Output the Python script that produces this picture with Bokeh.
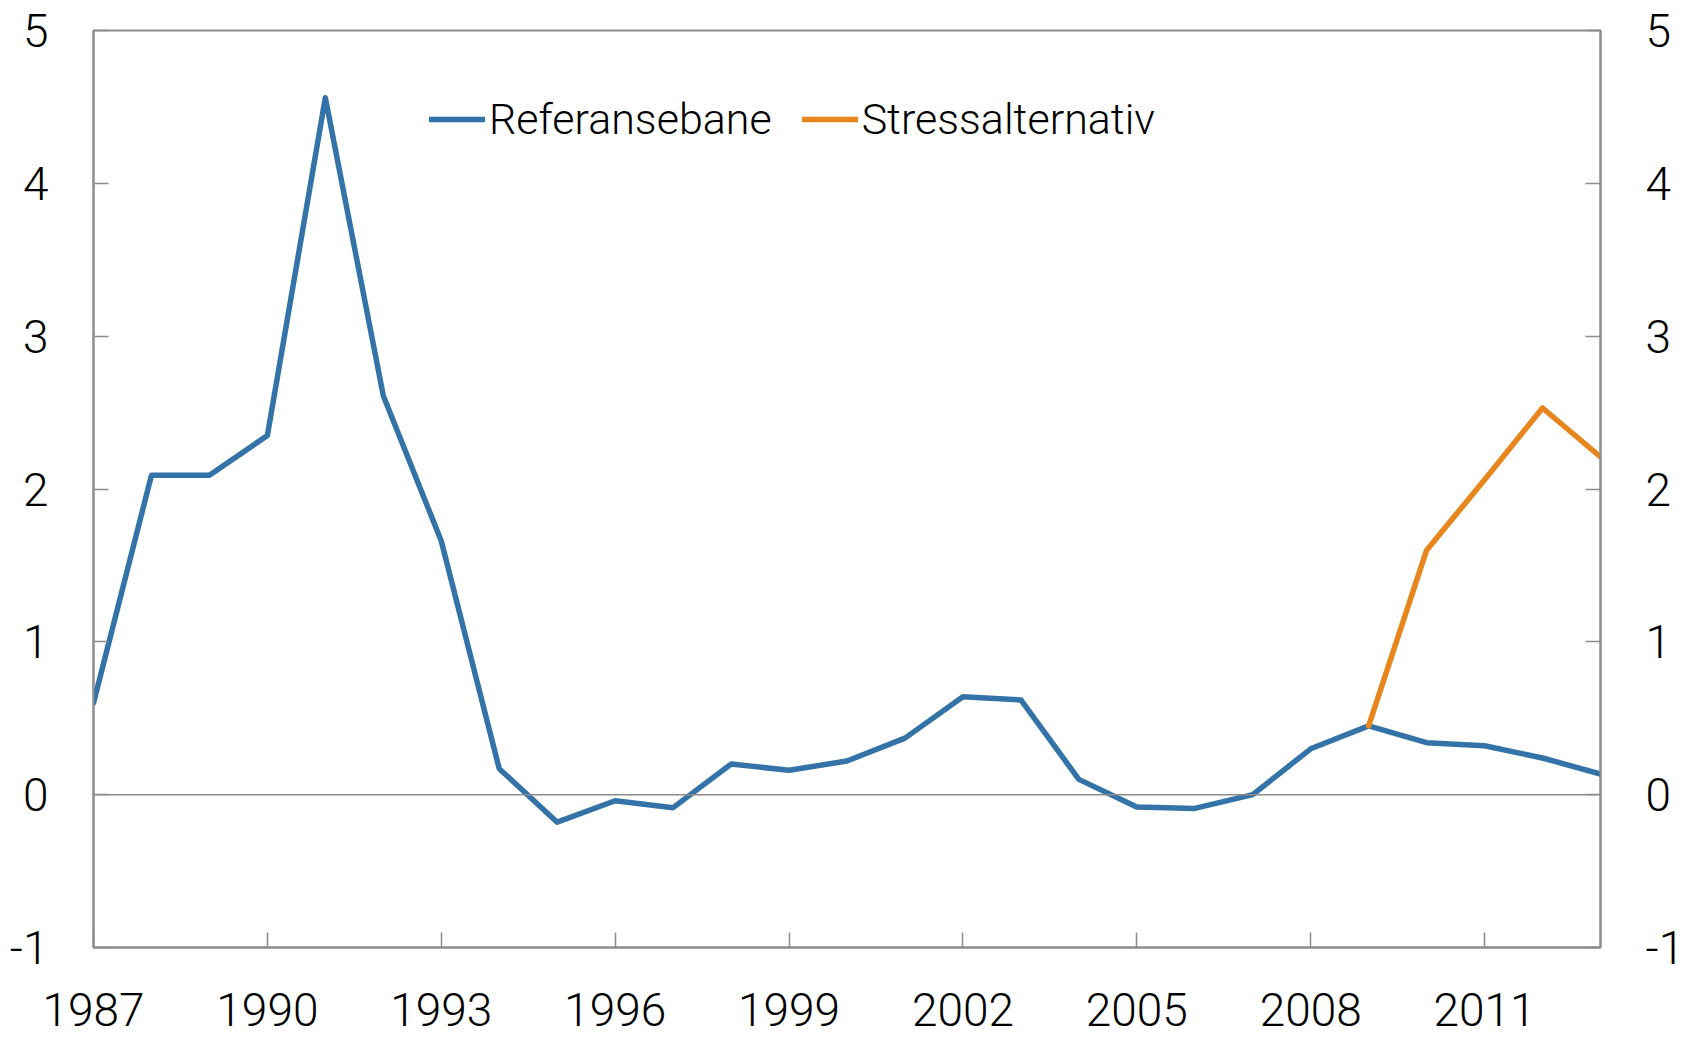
from bokeh.plotting import figure
from bokeh.models import (Range1d, LinearAxis, FixedTicker, Span, Legend,
                          LegendItem, PrintfTickFormatter)
from bokeh.embed import file_html
from bokeh.resources import INLINE

years = list(range(1987, 2014))
referansebane = [0.60, 2.09, 2.09, 2.35, 4.56, 2.61, 1.66, 0.17, -0.18, -0.04,
                 -0.085, 0.20, 0.16, 0.22, 0.37, 0.64, 0.62, 0.10, -0.08, -0.09,
                 0.0, 0.30, 0.45, 0.34, 0.32, 0.24, 0.135]
stress_years = [2009, 2010, 2011, 2012, 2013]
stressalternativ = [0.45, 1.60, 2.06, 2.53, 2.21]
x_ticks = [1987, 1990, 1993, 1996, 1999, 2002, 2005, 2008, 2011]
y_ticks = [-1, 0, 1, 2, 3, 4, 5]

BLUE = "#3373A8"
ORANGE = "#E8861E"
GRAY = "#8C8C8C"
FONT = "Roboto Light, Roboto"

p = figure(frame_width=1507, frame_height=917,
           x_range=Range1d(1987, 2013), y_range=Range1d(-1, 5),
           output_backend="svg", toolbar_location=None,
           min_border_left=93, min_border_right=82, min_border_top=30,
           min_border_bottom=0)
p.extra_y_ranges = {"r": Range1d(-1, 5)}
p.add_layout(LinearAxis(y_range_name="r"), "right")

p.grid.visible = False
p.outline_line_color = GRAY
p.outline_line_width = 2
p.background_fill_color = "white"
p.border_fill_color = "white"

for ax in p.axis:
    ax.axis_line_color = GRAY
    ax.axis_line_width = 2
    ax.major_tick_line_color = GRAY
    ax.major_tick_line_width = 1.5
    ax.major_tick_in = 15
    ax.major_tick_out = 0
    ax.minor_tick_line_color = None
    ax.major_label_text_font = FONT
    ax.major_label_text_font_size = "46px"
    ax.major_label_text_color = "black"

p.xaxis.ticker = FixedTicker(ticks=x_ticks)
p.xaxis.major_label_standoff = 45
for ax in p.yaxis:
    ax.ticker = FixedTicker(ticks=y_ticks)
    ax.formatter = PrintfTickFormatter(format="%d")
    ax.major_label_standoff = 45

p.add_layout(Span(location=0, dimension="width", line_color=GRAY, line_width=1.5))

r1 = p.line(years, referansebane, line_color=BLUE, line_width=5.5,
            line_join="round", line_cap="round")
r2 = p.line(stress_years, stressalternativ, line_color=ORANGE, line_width=5.5,
            line_join="round", line_cap="round")

legend = Legend(items=[LegendItem(label="Referansebane", renderers=[r1]),
                       LegendItem(label="Stressalternativ", renderers=[r2])],
                orientation="horizontal", location=(336, 803),
                glyph_width=56, glyph_height=20, label_standoff=4, spacing=30,
                padding=0, margin=0, border_line_alpha=0, background_fill_alpha=0,
                label_text_font=FONT, label_text_font_size="43px",
                label_text_color="black")
p.add_layout(legend)

open("out.html", "w").write(file_html(p, INLINE))
